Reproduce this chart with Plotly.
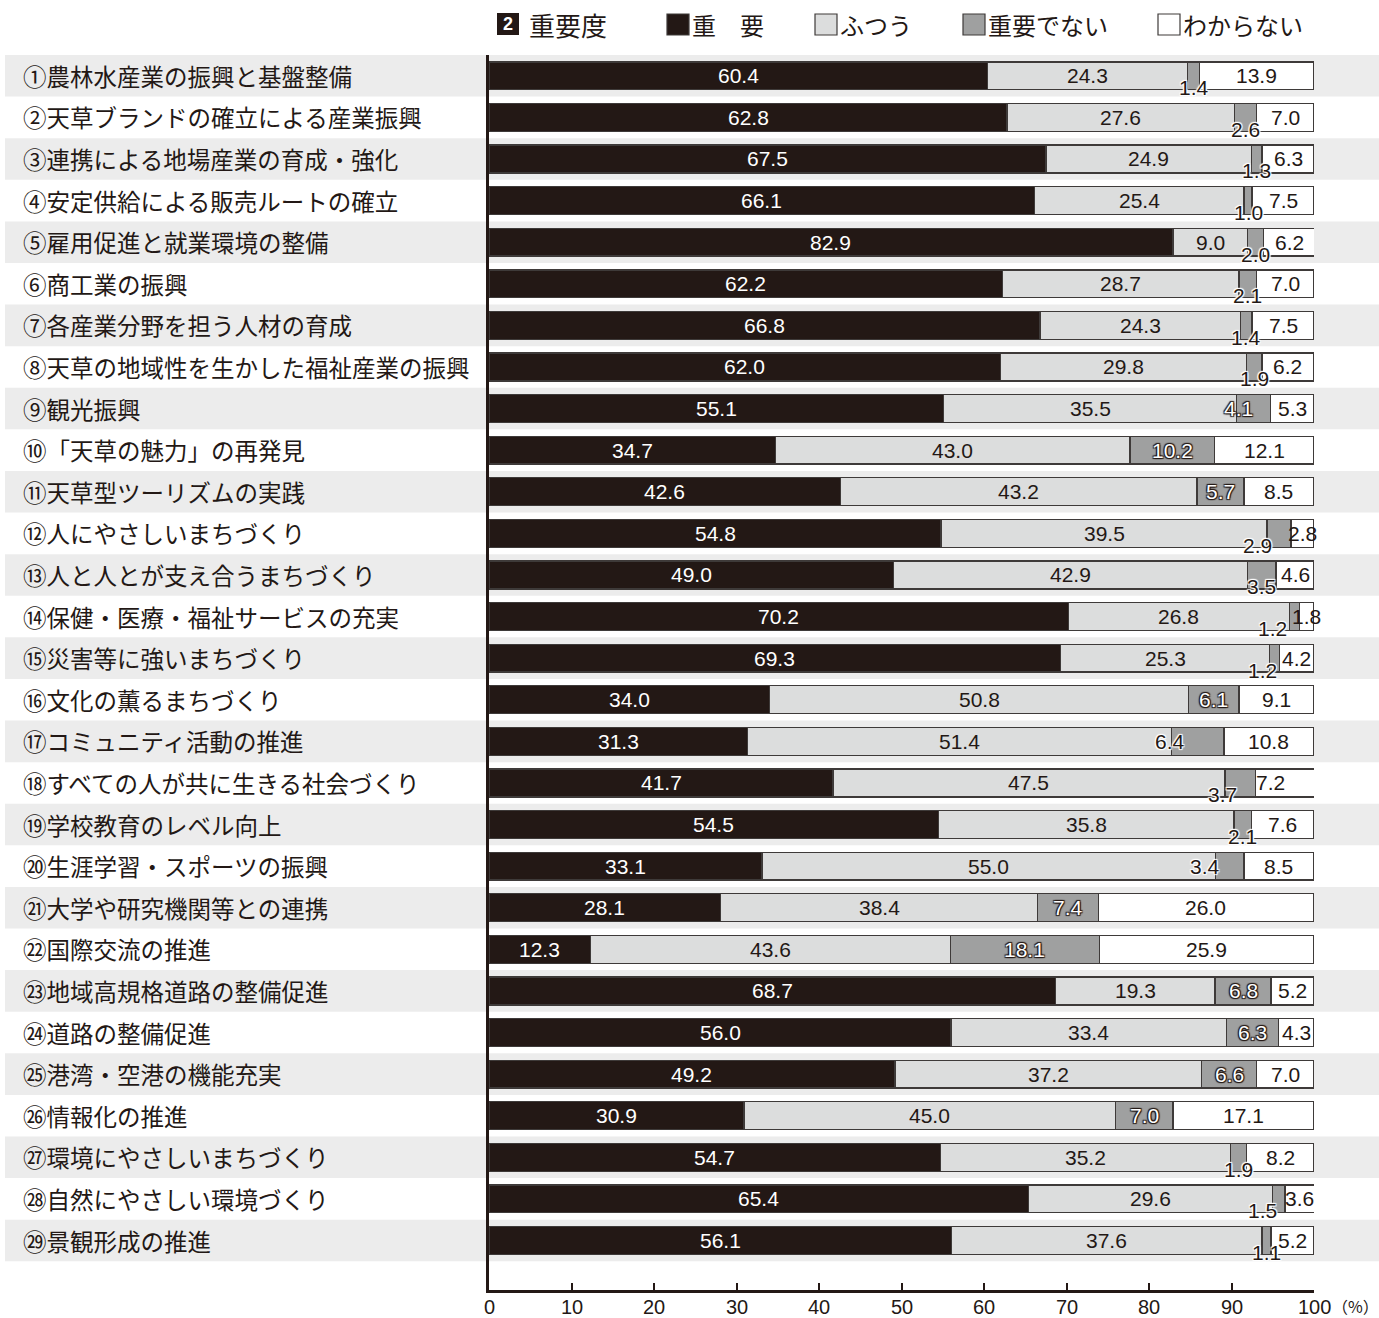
import plotly.graph_objects as go

# ---------------- data ----------------
items = [
    "①農林水産業の振興と基盤整備",
    "②天草ブランドの確立による産業振興",
    "③連携による地場産業の育成・強化",
    "④安定供給による販売ルートの確立",
    "⑤雇用促進と就業環境の整備",
    "⑥商工業の振興",
    "⑦各産業分野を担う人材の育成",
    "⑧天草の地域性を生かした福祉産業の振興",
    "⑨観光振興",
    "⑩「天草の魅力」の再発見",
    "⑪天草型ツーリズムの実践",
    "⑫人にやさしいまちづくり",
    "⑬人と人とが支え合うまちづくり",
    "⑭保健・医療・福祉サービスの充実",
    "⑮災害等に強いまちづくり",
    "⑯文化の薫るまちづくり",
    "⑰コミュニティ活動の推進",
    "⑱すべての人が共に生きる社会づくり",
    "⑲学校教育のレベル向上",
    "⑳生涯学習・スポーツの振興",
    "㉑大学や研究機関等との連携",
    "㉒国際交流の推進",
    "㉓地域高規格道路の整備促進",
    "㉔道路の整備促進",
    "㉕港湾・空港の機能充実",
    "㉖情報化の推進",
    "㉗環境にやさしいまちづくり",
    "㉘自然にやさしい環境づくり",
    "㉙景観形成の推進",
]
important = [60.4, 62.8, 67.5, 66.1, 82.9, 62.2, 66.8, 62.0, 55.1, 34.7,
             42.6, 54.8, 49.0, 70.2, 69.3, 34.0, 31.3, 41.7, 54.5, 33.1,
             28.1, 12.3, 68.7, 56.0, 49.2, 30.9, 54.7, 65.4, 56.1]
normal = [24.3, 27.6, 24.9, 25.4, 9.0, 28.7, 24.3, 29.8, 35.5, 43.0,
          43.2, 39.5, 42.9, 26.8, 25.3, 50.8, 51.4, 47.5, 35.8, 55.0,
          38.4, 43.6, 19.3, 33.4, 37.2, 45.0, 35.2, 29.6, 37.6]
not_important = [1.4, 2.6, 1.3, 1.0, 2.0, 2.1, 1.4, 1.9, 4.1, 10.2,
                 5.7, 2.9, 3.5, 1.2, 1.2, 6.1, 6.4, 3.7, 2.1, 3.4,
                 7.4, 18.1, 6.8, 6.3, 6.6, 7.0, 1.9, 1.5, 1.1]
unknown = [13.9, 7.0, 6.3, 7.5, 6.2, 7.0, 7.5, 6.2, 5.3, 12.1,
           8.5, 2.8, 4.6, 1.8, 4.2, 9.1, 10.8, 7.2, 7.6, 8.5,
           26.0, 25.9, 5.2, 4.3, 7.0, 17.1, 8.2, 3.6, 5.2]
series_names = ["重　要", "ふつう", "重要でない", "わからない"]
x_ticks = [0, 10, 20, 30, 40, 50, 60, 70, 80, 90, 100]
title_text = "重要度"
title_badge = "2"
unit_text = "（%）"

# ---------------- style ----------------
W, H = 1379, 1318
L, R, T, B = 489, 1314, 55, 1290
DARK = "#231815"
LIGHT = "#dcdddd"
MID = "#9fa0a0"
WHITE = "#ffffff"
EDGE = "#3e3a39"
BAND = "#ececec"
colors = [DARK, LIGHT, MID, WHITE]
JP = "Noto Sans CJK JP"
NUM = "Liberation Sans, Arial, sans-serif"
NUM_SIZE = 21
halo_w = "1px 1px 1px #fff, -1px -1px 1px #fff, 1px -1px 1px #fff, -1px 1px 1px #fff, 0 0 2px #fff"
halo_d = ("1px 1px 1px #231815, -1px -1px 1px #231815, 1px -1px 1px #231815, "
          "-1px 1px 1px #231815")

n = len(items)
extra = 0.69
yr = [n - 0.5 + extra, -0.5]


def px2x(px):
    return (px - L) / (R - L)


def py2y(py):
    return (B - py) / (B - T)


ys = list(range(n))
series = [important, normal, not_important, unknown]

fig = go.Figure()
for name, vals, col in zip(series_names, series, colors):
    fig.add_trace(go.Bar(
        x=vals, y=ys, orientation="h", name=name,
        marker=dict(color=col, line=dict(color=EDGE, width=1.3)),
        showlegend=False, hoverinfo="skip",
    ))

# row bands
shapes = []
for i in range(0, n, 2):
    shapes.append(dict(type="rect", xref="paper", yref="y",
                       x0=px2x(5), x1=px2x(W), y0=i - 0.5, y1=i + 0.5,
                       fillcolor=BAND, line=dict(width=0), layer="below"))

annotations = []
# category labels
for i, lab in enumerate(items):
    annotations.append(dict(xref="paper", yref="y", x=px2x(21), y=i,
                            text=lab, showarrow=False, xanchor="left",
                            yanchor="middle",
                            font=dict(family=JP, size=23.5, color=DARK)))

# x tick labels (placed on the axis scale)
for t in x_ticks:
    annotations.append(dict(xref="x", yref="paper", x=t, y=py2y(1307),
                            text=str(t), showarrow=False, xanchor="center",
                            yanchor="middle", borderpad=0,
                            font=dict(family=NUM, size=20, color=DARK)))

# label placement tweaks (style only)
gray_inline_dark = {16: -28, 19: -25}
gray_below_shift = {11: -21, 13: -22, 14: -12, 17: -18, 27: -16}
gray_inside_shift = {8: -15}
unknown_shift = {17: -15}

for i in range(n):
    a, b, c, d = important[i], normal[i], not_important[i], unknown[i]
    annotations.append(dict(x=a / 2, y=i, xref="x", yref="y", text=f"{a:.1f}",
                            showarrow=False,
                            font=dict(family=NUM, size=NUM_SIZE, color="#ffffff")))
    annotations.append(dict(x=a + b / 2, y=i, xref="x", yref="y", text=f"{b:.1f}",
                            showarrow=False,
                            font=dict(family=NUM, size=NUM_SIZE, color=DARK)))
    cx = a + b + c / 2
    if i in gray_inline_dark:
        annotations.append(dict(x=cx, y=i, xref="x", yref="y", text=f"{c:.1f}",
                                showarrow=False, xshift=gray_inline_dark[i],
                                font=dict(family=NUM, size=NUM_SIZE, color=DARK,
                                          shadow=halo_w)))
    elif c < 3.8:
        annotations.append(dict(x=cx, y=i, xref="x", yref="y", text=f"{c:.1f}",
                                showarrow=False, yshift=-12,
                                xshift=gray_below_shift.get(i, 0),
                                font=dict(family=NUM, size=NUM_SIZE, color=DARK,
                                          shadow=halo_w)))
    else:
        annotations.append(dict(x=cx, y=i, xref="x", yref="y", text=f"{c:.1f}",
                                showarrow=False, xshift=gray_inside_shift.get(i, 0),
                                font=dict(family=NUM, size=NUM_SIZE, color="#ffffff",
                                          shadow=halo_d)))
    annotations.append(dict(x=a + b + c + d / 2, y=i, xref="x", yref="y",
                            text=f"{d:.1f}", showarrow=False,
                            xshift=unknown_shift.get(i, 0),
                            font=dict(family=NUM, size=NUM_SIZE, color=DARK)))

# unit
annotations.append(dict(xref="paper", yref="paper", x=px2x(1355), y=py2y(1306),
                        text=unit_text, showarrow=False, xanchor="center",
                        yanchor="middle", borderpad=0,
                        font=dict(family=JP, size=16, color=DARK)))

# header: badge + title
shapes.append(dict(type="rect", xref="paper", yref="paper",
                   x0=px2x(497), x1=px2x(519), y0=py2y(35), y1=py2y(13),
                   fillcolor=DARK, line=dict(width=0)))
annotations.append(dict(xref="paper", yref="paper", x=px2x(508), y=py2y(24),
                        text=f"<b>{title_badge}</b>", showarrow=False,
                        xanchor="center", yanchor="middle",
                        font=dict(family=NUM, size=18, color="#ffffff")))
annotations.append(dict(xref="paper", yref="paper", x=px2x(527), y=py2y(24),
                        text=title_text, showarrow=False, xanchor="left",
                        yanchor="middle",
                        font=dict(family=JP, size=26, color=DARK)))

# legend
leg_sq = [667, 815, 963, 1158]
for name, col, sx in zip(series_names, colors, leg_sq):
    shapes.append(dict(type="rect", xref="paper", yref="paper",
                       x0=px2x(sx), x1=px2x(sx + 22), y0=py2y(35), y1=py2y(14),
                       fillcolor=col, line=dict(color=EDGE, width=1.2)))
    annotations.append(dict(xref="paper", yref="paper", x=px2x(sx + 23), y=py2y(24),
                            text=name, showarrow=False, xanchor="left",
                            yanchor="middle",
                            font=dict(family=JP, size=24, color=DARK)))

fig.update_layout(
    width=W, height=H,
    margin=dict(l=L, r=W - R, t=T, b=H - B, autoexpand=False),
    barmode="stack", bargap=0.33,
    plot_bgcolor="rgba(0,0,0,0)", paper_bgcolor="#ffffff",
    shapes=shapes, annotations=annotations,
    showlegend=False,
    xaxis=dict(range=[0, 100], tickvals=x_ticks, showticklabels=False,
               showline=True, linecolor=DARK, linewidth=2.5,
               ticks="inside", ticklen=7, tickwidth=2, tickcolor=DARK,
               showgrid=False, zeroline=False, fixedrange=True,
               automargin=False),
    yaxis=dict(range=yr, showline=True, linecolor=DARK, linewidth=3,
               showticklabels=False, ticks="", showgrid=False, zeroline=False,
               fixedrange=True, automargin=False),
)

fig.write_html("out.html", config={"displayModeBar": False},
               post_script="document.body.style.margin='0px';document.body.style.overflow='hidden';")
